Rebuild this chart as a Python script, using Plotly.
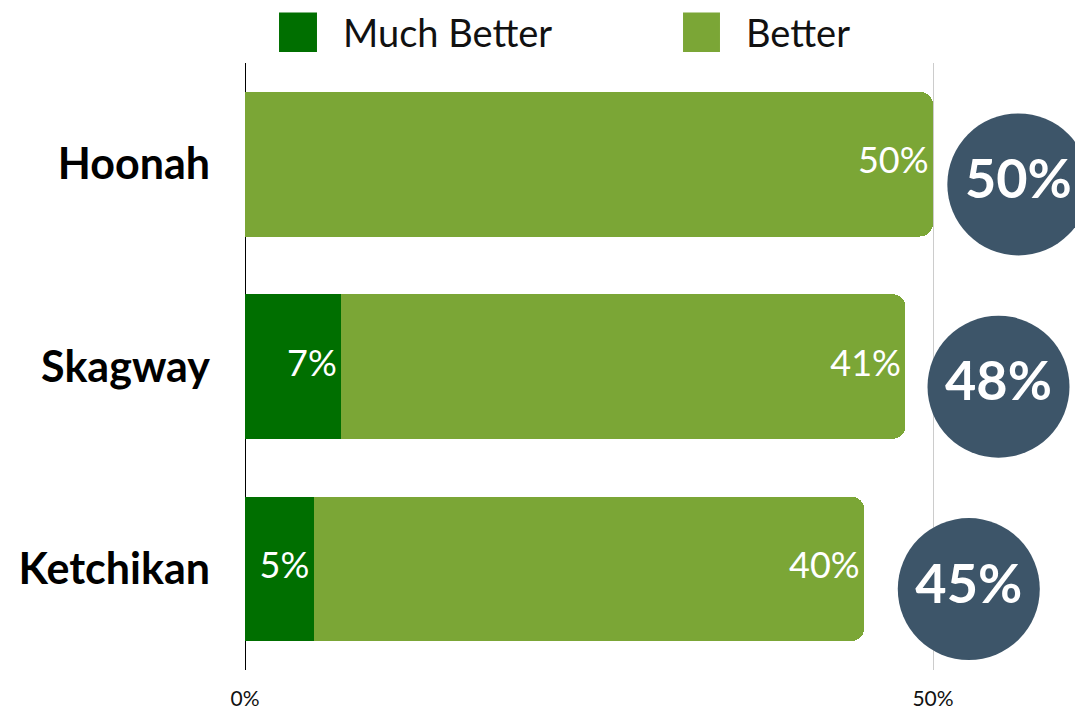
import plotly.graph_objects as go

# ---- data ----
towns = ["Hoonah", "Skagway", "Ketchikan"]
much_better = [0, 7, 5]
better = [50, 41, 40]
totals = [50, 48, 45]
tick_vals = [0, 50]
tick_text = ["0%", "50%"]

DARK = "#006f00"
LIGHT = "#7ba636"
BADGE = "#3d5569"
FONT = "Lato, 'Noto Sans', sans-serif"

ypos = list(range(len(towns)))
# style: badges sit to the right of the bar ends, slightly below bar centre
badge_x = [20.2 + 0.72 * t for t in totals]
badge_y = [p + 0.1 for p in ypos]

fig = go.Figure()
fig.add_trace(go.Bar(
    y=ypos, x=much_better, orientation="h", name="Much Better",
    marker=dict(color=DARK, line=dict(width=0)),
    width=0.715, showlegend=False, hoverinfo="skip",
))
fig.add_trace(go.Bar(
    y=ypos, x=better, orientation="h", name="Better",
    marker=dict(color=LIGHT, line=dict(width=0)),
    width=0.715, showlegend=False, hoverinfo="skip",
))

# value labels, right-aligned at each segment's end (thin space as padding)
seg_end = [m for m in much_better] + [m + b for m, b in zip(much_better, better)]
seg_y = ypos + ypos
seg_txt = [f"{v}%\u2009" if v else "" for v in much_better] + \
          [f"{v}%\u2009" if v else "" for v in better]
fig.add_trace(go.Scatter(
    x=seg_end, y=seg_y, mode="text", text=seg_txt,
    textposition="middle left",
    textfont=dict(color="white", size=36, family=FONT, weight=400),
    cliponaxis=False, showlegend=False, hoverinfo="skip",
))

fig.add_trace(go.Scatter(
    x=badge_x, y=badge_y,
    mode="markers+text",
    marker=dict(size=142, color=BADGE, line=dict(width=0)),
    text=[f"<b>{t}%</b>" for t in totals],
    textposition="middle center",
    textfont=dict(color="white", size=54, family=FONT),
    cliponaxis=False, showlegend=False, hoverinfo="skip",
))

# manual legend (large swatches)
legend_items = [("Much Better", DARK, 0.0406, 0.0859, 0.1146),
                ("Better", LIGHT, 0.5227, 0.5668, 0.5955)]
shapes = []
annotations = []
for name, col, x0, x1, xt in legend_items:
    shapes.append(dict(type="rect", xref="paper", yref="paper",
                       x0=x0, x1=x1, y0=1.018, y1=1.083,
                       fillcolor=col, line=dict(width=0)))
    annotations.append(dict(text=name, xref="paper", yref="paper",
                            x=xt, y=1.051, xanchor="left", yanchor="middle",
                            showarrow=False,
                            font=dict(size=38, color="#111", family=FONT)))

# page has an 8px body margin, so the figure is sized to fit the window
fig.update_layout(
    width=1075, height=702,
    margin=dict(l=237, r=0, t=55, b=35),
    barmode="stack", barcornerradius=13,
    plot_bgcolor="white", paper_bgcolor="white",
    shapes=shapes, annotations=annotations,
    xaxis=dict(range=[0, 60.9], tickvals=tick_vals, ticktext=tick_text,
               showgrid=True, gridcolor="#cccccc", gridwidth=1,
               zeroline=True, zerolinecolor="#000000", zerolinewidth=1,
               showline=False, ticks="",
               tickfont=dict(size=21, color="#111", family=FONT),
               ticklabelstandoff=14, fixedrange=True),
    yaxis=dict(range=[len(towns) - 0.5, -0.5], tickvals=ypos, ticktext=towns,
               showgrid=False, zeroline=False, showline=False, ticks="",
               tickfont=dict(size=43, color="#000", family=FONT, weight="bold"),
               ticklabelstandoff=34, fixedrange=True),
    font=dict(family=FONT),
)

fig.write_html("out.html")
